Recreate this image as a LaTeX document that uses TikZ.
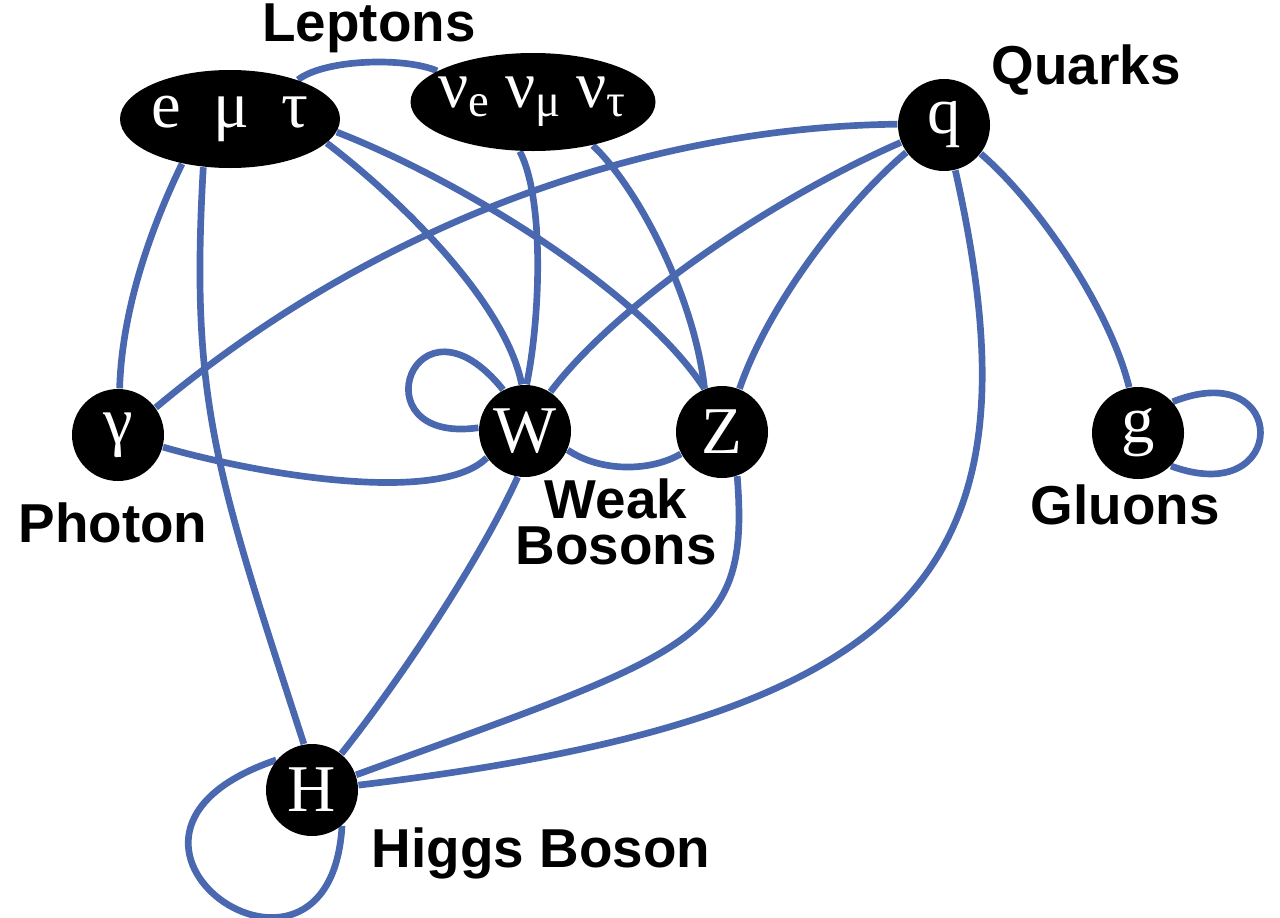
\documentclass[tikz,border=0pt]{standalone}
\usepackage{fontspec}
\setmainfont{Liberation Serif}
\newfontfamily\labelfont{Liberation Sans}
\usepackage{tikz}
\usetikzlibrary{shapes.geometric, positioning, backgrounds}
\definecolor{edgeblue}{RGB}{74,104,176}

\begin{document}
\begin{tikzpicture}[
  particle/.style={
    draw=none, circle, fill=black, text=white,
    minimum size=0.92cm, inner sep=0pt,
    font=\fontsize{19}{20}\selectfont
  },
  family/.style={
    draw=none, ellipse, fill=black, text=white,
    inner sep=-5pt, font=\fontsize{19}{20}\selectfont
  },
  tag/.style={
    align=center, inner sep=0pt,
    font=\labelfont\bfseries\fontsize{15.6}{13}\selectfont
  },
  link/.style={draw=edgeblue, line width=1.9pt}
]
\useasboundingbox (0,0) rectangle (12.8,9.17);

% --- Particles ---
\node[family, minimum width=2.2cm, minimum height=0.98cm]  (lep) at (2.30, 7.98) {e\hspace{0.32cm}μ\hspace{0.32cm}τ};
\node[family, minimum width=2.45cm, minimum height=0.98cm] (neu) at (5.33, 8.15) {ν\textsubscript{e}\hspace{0.14cm}ν\textsubscript{μ}\hspace{0.14cm}ν\textsubscript{τ}};
\node[particle] (q)   at (9.44, 7.92) {q};
\node[particle] (gam) at (1.18, 4.82) {γ};
\node[particle] (W)   at (5.25, 4.86) {W};
\node[particle] (Z)   at (7.22, 4.85) {Z};
\node[particle] (g)   at (11.38, 4.84) {g};
\node[particle] (H)   at (3.12, 1.27) {H};

% --- Labels ---
\node[tag] (leptons) at (3.69, 8.89) {Leptons};
\node[tag] (quarks)  at (10.86, 8.47) {Quarks};
\node[tag] (photon)  at (1.13, 3.94) {Photon};
\node[tag] (weak)    at (6.16, 3.95) {Weak\\Bosons};
\node[tag] (gluons)  at (11.25, 4.12) {Gluons};
\node[tag] (higgs)   at (5.41, 0.64) {Higgs Boson};

\begin{scope}[on background layer]
% --- Lepton links ---
\draw[link] (lep.223) .. controls (1.50,6.87) and (1.22,6.07) .. (gam.88);
\draw[link] (lep.241) .. controls (1.90,5.17) and (2.15,4.47) .. (H.100);
\draw[link] (lep.30)  .. controls (3.25,8.58) and (4.05,8.60) .. (neu.162);
\draw[link] (lep.-14) .. controls (3.95,7.22) and (5.05,6.17) .. (W.94);
\draw[link] (lep.-7)  .. controls (4.60,7.37) and (6.40,6.27) .. (Z.112);
\draw[link] (neu.-105) .. controls (5.45,7.17) and (5.40,5.97) .. (W.88);
\draw[link] (neu.-36)  .. controls (6.40,7.27) and (6.95,6.17) .. (Z.112);

% --- Quark links ---
\draw[link] (q.179) .. controls (6.50,7.90) and (3.80,6.97) .. (gam.36);
\draw[link] (q.202) .. controls (7.80,7.22) and (6.20,6.17) .. (W.57);
\draw[link] (q.216) .. controls (8.50,7.17) and (7.70,6.17) .. (Z.68);
\draw[link] (q.-38) .. controls (10.40,7.12) and (11.10,6.07) .. (g.101);
\draw[link] (q.-76) .. controls (10.45,3.49) and (9.26,2.00) .. (H.6);

% --- Boson links ---
\draw[link] (gam.-15) .. controls (2.60,4.42) and (4.40,4.12) .. (W.215);
\draw[link] (W.-24) .. controls (6.00,4.45) and (6.50,4.45) .. (Z.208);
\draw[link] (W.118) .. controls (4.15,6.37) and (3.55,4.72) .. (W.176);
\draw[link] (W.-99) .. controls (4.80,3.57) and (4.00,2.37) .. (H.51);
\draw[link] (Z.-71) .. controls (7.50,2.77) and (7.00,2.67) .. (H.19);

% --- Self loops ---
\draw[link] (H.140) .. controls (0.50,0.80) and (3.30,-1.15) .. (H.-50);
\draw[link] (g.42) .. controls (12.90,5.62) and (12.90,4.07) .. (g.-45);
\end{scope}
\end{tikzpicture}
\end{document}
